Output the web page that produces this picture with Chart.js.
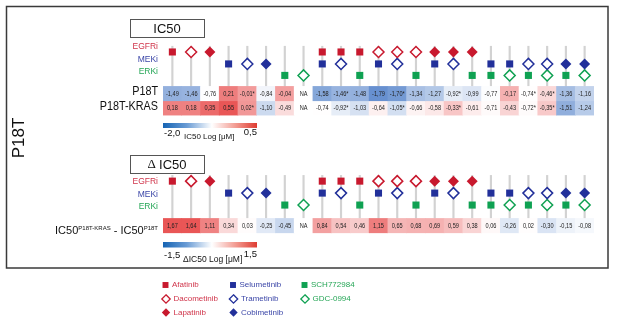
<!DOCTYPE html>
<html lang="en">
<head>
<meta charset="UTF-8">
<title>P18T IC50</title>
<script src="https://cdn.jsdelivr.net/npm/chart.js"></script>
<style>
  html, body { margin: 0; padding: 0; background: #fff; }
  canvas { display: block; }
</style>
</head>
<body>
<canvas id="heatChart" width="617" height="324"></canvas>
<script>
// drugs in legend order, and the drug class of each
const drugNames = ['Afatinib', 'Dacometinib', 'Lapatinib', 'Selumetinib', 'Trametinib', 'Cobimetinib', 'SCH772984', 'GDC-0994'];
const drugTargets = ['EGFRi', 'EGFRi', 'EGFRi', 'MEKi', 'MEKi', 'MEKi', 'ERKi', 'ERKi'];
const targetLabels = ['EGFRi', 'MEKi', 'ERKi'];

// one entry per heatmap column: the drugs combined in it
const columns = [
  ['Afatinib'], ['Dacometinib'], ['Lapatinib'], ['Selumetinib'], ['Trametinib'], ['Cobimetinib'], ['SCH772984'], ['GDC-0994'],
  ['Afatinib', 'Selumetinib'], ['Afatinib', 'Trametinib'], ['Afatinib', 'SCH772984'],
  ['Dacometinib', 'Selumetinib'], ['Dacometinib', 'Trametinib'], ['Dacometinib', 'SCH772984'],
  ['Lapatinib', 'Selumetinib'], ['Lapatinib', 'Trametinib'], ['Lapatinib', 'SCH772984'],
  ['Selumetinib', 'SCH772984'], ['Selumetinib', 'GDC-0994'],
  ['Trametinib', 'SCH772984'], ['Trametinib', 'GDC-0994'],
  ['Cobimetinib', 'SCH772984'], ['Cobimetinib', 'GDC-0994']
];

// log IC50 [uM], null = NA
const ic50P18T = [-1.49, -1.46, -0.76, 0.21, -0.01, -0.84, -0.04, null, -1.58, -1.46, -1.48, -1.79, -1.70, -1.34, -1.27, -0.92, -0.99, -0.77, -0.17, -0.74, -0.46, -1.36, -1.16];
const ic50P18TKRAS = [0.18, 0.18, 0.35, 0.55, 0.02, -1.10, -0.49, null, -0.74, -0.92, -1.03, -0.64, -1.05, -0.66, -0.58, -0.33, -0.61, -0.71, -0.43, -0.72, -0.35, -1.51, -1.24];
const deltaIC50 = [1.67, 1.64, 1.11, 0.34, 0.03, -0.25, -0.45, null, 0.84, 0.54, 0.46, 1.15, 0.65, 0.68, 0.69, 0.59, 0.38, 0.06, -0.26, 0.02, -0.30, -0.15, -0.08];
const starredCols = [4, 9, 12, 15, 19, 20];   // values marked with *
const rowLabels = ['P18T', 'P18T-KRAS'];

// colour bar tick labels
const ic50Ticks = [-2.0, 0.5];
const deltaTicks = [-1.5, 1.5];

// ---- layout / style (pixels from top) ----
const SANS = '"Liberation Sans", Arial, sans-serif';
const SERIF = '"Liberation Serif", "Times New Roman", serif';
const panels = [
  { markerY: { EGFRi: 47, MEKi: 59.5, ERKi: 71.5 }, stem: [41, 83], box: [130, 19, 74, 18] },
  { markerY: { EGFRi: 182, MEKi: 194.5, ERKi: 207 }, stem: [176, 221], box: [130, 155, 74, 18] }
];
const heatRowSpans = [[83, 98], [98, 113], [221, 236]];
const targetColors = { EGFRi: '#c8192e', MEKi: '#22309a', ERKi: '#0fa152' };
const labelColors = { EGFRi: '#d0354b', MEKi: '#3c47a8', ERKi: '#26a657' };
const drugShapes = {
  Afatinib: ['rect', true], Dacometinib: ['rectRot', false], Lapatinib: ['rectRot', true],
  Selumetinib: ['rect', true], Trametinib: ['rectRot', false], Cobimetinib: ['rectRot', true],
  SCH772984: ['rect', true], 'GDC-0994': ['rectRot', false]
};

const WHITE = [255, 255, 255], BLUE = [72, 122, 198], RED = [233, 86, 86];
function mix(a, b, t) { return a.map((v, k) => Math.round(v + (b[k] - v) * t)); }
function cellColor(v, lo, mid, hi) {
  if (v === null) return '#ffffff';
  const c = v < mid ? mix(WHITE, BLUE, Math.min(1, (mid - v) / (mid - lo)))
                    : mix(WHITE, RED, Math.min(1, (v - mid) / (hi - mid)));
  return 'rgb(' + c.join(',') + ')';
}
function fmt(v, i, stars) {
  if (v === null) return 'NA';
  return v.toFixed(2).replace('.', ',') + (stars && starredCols.includes(i) ? '*' : '');
}

// ---- datasets ----
const datasets = [];
drugNames.forEach((name, d) => {
  const [shape, filled] = drugShapes[name];
  const color = targetColors[drugTargets[d]];
  const pts = [];
  panels.forEach(p => {
    columns.forEach((c, i) => { if (c.includes(name)) pts.push({ x: i, y: p.markerY[drugTargets[d]] }); });
  });
  datasets.push({
    type: 'scatter', label: name, data: pts, order: 0,
    pointStyle: shape,
    pointRadius: shape === 'rect' ? 5 : 5.5,
    backgroundColor: filled ? color : '#ffffff',
    borderColor: color,
    borderWidth: filled ? 0 : 1.5
  });
});

const heatRows = [
  { values: ic50P18T, range: [ic50Ticks[0], -0.75, ic50Ticks[1]], stars: true },
  { values: ic50P18TKRAS, range: [ic50Ticks[0], -0.75, ic50Ticks[1]], stars: true },
  { values: deltaIC50, range: [deltaTicks[0], 0, deltaTicks[1]], stars: false }
];
heatRows.forEach((r, k) => {
  r.index = datasets.length;
  datasets.push({
    type: 'bar', label: 'heat' + k, order: 2, grouped: false,
    barPercentage: 1, categoryPercentage: 1, borderWidth: 0,
    data: r.values.map((v, i) => ({ x: i, y: heatRowSpans[k] })),
    backgroundColor: r.values.map(v => cellColor(v, ...r.range))
  });
});

panels.forEach((p, k) => {
  datasets.push({
    type: 'bar', label: 'stems' + k, order: 3, grouped: false, barThickness: 1.5,
    data: columns.map((c, i) => ({ x: i, y: p.stem })),
    backgroundColor: '#d2d2d2'
  });
});

// ---- drawing helpers ----
function text(ctx, str, x, y, font, color, align, sx, baseline) {
  ctx.save();
  ctx.font = font;
  ctx.fillStyle = color;
  ctx.textAlign = align || 'left';
  ctx.textBaseline = baseline || 'alphabetic';
  ctx.translate(x, y);
  ctx.scale(sx || 1, 1);
  ctx.fillText(str, 0, 0);
  ctx.restore();
}
function marker(ctx, shape, filled, color, x, y, r) {
  ctx.save();
  ctx.beginPath();
  if (shape === 'rect') {
    const s = r * Math.SQRT1_2;
    ctx.rect(x - s, y - s, 2 * s, 2 * s);
  } else {
    ctx.moveTo(x, y - r); ctx.lineTo(x + r, y); ctx.lineTo(x, y + r); ctx.lineTo(x - r, y); ctx.closePath();
  }
  ctx.fillStyle = filled ? color : '#fff';
  ctx.fill();
  if (!filled) { ctx.strokeStyle = color; ctx.lineWidth = 1.3; ctx.stroke(); }
  ctx.restore();
}
function colorBar(ctx, x, y, w, h) {
  const g = ctx.createLinearGradient(x, 0, x + w, 0);
  g.addColorStop(0, 'rgb(22,100,180)');
  g.addColorStop(0.25, 'rgb(105,155,212)');
  g.addColorStop(0.52, 'rgb(255,255,255)');
  g.addColorStop(0.78, 'rgb(242,152,142)');
  g.addColorStop(1, 'rgb(222,60,50)');
  ctx.fillStyle = g;
  ctx.fillRect(x, y, w, h);
}
const fmtTick = v => v.toFixed(1).replace('.', ',');

const decor = {
  id: 'decor',
  beforeDraw(chart) {
    const ctx = chart.ctx;
    ctx.save();
    ctx.fillStyle = '#fff';
    ctx.fillRect(0, 0, chart.width, chart.height);
    ctx.restore();
  },
  afterDatasetsDraw(chart) {
    const ctx = chart.ctx;
    const left = chart.chartArea.left;

    // outer frame
    ctx.save();
    ctx.strokeStyle = '#3a3a3a';
    ctx.lineWidth = 1.5;
    ctx.strokeRect(6.5, 6.5, 601.5, 261.5);
    ctx.restore();

    // vertical cell line label
    ctx.save();
    ctx.translate(19, 138);
    ctx.rotate(-Math.PI / 2);
    text(ctx, 'P18T', 0, 0, '17px ' + SANS, '#111', 'center', 1, 'middle');
    ctx.restore();

    // panel titles
    panels.forEach((p, k) => {
      const [bx, by, bw, bh] = p.box;
      ctx.save();
      ctx.strokeStyle = '#555';
      ctx.lineWidth = 1;
      ctx.strokeRect(bx + 0.5, by + 0.5, bw, bh);
      ctx.restore();
      const cx = bx + bw / 2, cy = by + bh / 2 + 1;
      if (k === 0) {
        text(ctx, 'IC50', cx, cy, '13px ' + SANS, '#111', 'center', 1, 'middle');
      } else {
        ctx.save();
        ctx.font = '13px ' + SERIF;
        const wd = ctx.measureText('Δ ').width;
        ctx.font = '13px ' + SANS;
        const wi = ctx.measureText('IC50').width;
        ctx.restore();
        const x0 = cx - (wd + wi) / 2;
        text(ctx, 'Δ ', x0, cy, '13px ' + SERIF, '#111', 'left', 1, 'middle');
        text(ctx, 'IC50', x0 + wd, cy, '13px ' + SANS, '#111', 'left', 1, 'middle');
      }
      targetLabels.forEach(t => {
        text(ctx, t, 158, p.markerY[t], '8.5px ' + SANS, labelColors[t], 'right', 1, 'middle');
      });
    });

    // row labels
    text(ctx, rowLabels[0], 158, 94.5, '12px ' + SANS, '#111', 'right', 0.9);
    text(ctx, rowLabels[1], 158, 110, '12px ' + SANS, '#111', 'right', 0.9);

    // IC50^P18T-KRAS - IC50^P18T
    const parts = [['IC50', 11, 0], ['P18T-KRAS', 6, -4.5], [' - ', 11, 0], ['IC50', 11, 0], ['P18T', 6, -4.5]];
    ctx.save();
    let total = 0;
    parts.forEach(pt => { ctx.font = pt[1] + 'px ' + SANS; pt.push(ctx.measureText(pt[0]).width); total += pt[3]; });
    ctx.restore();
    let px = 158 - total;
    parts.forEach(pt => {
      text(ctx, pt[0], px, 234 + pt[2], pt[1] + 'px ' + SANS, '#111', 'left');
      px += pt[3];
    });

    // cell values
    heatRows.forEach(r => {
      const meta = chart.getDatasetMeta(r.index);
      meta.data.forEach((el, i) => {
        const p = el.getProps(['x', 'y', 'base'], true);
        text(ctx, fmt(r.values[i], i, r.stars), p.x, (p.y + p.base) / 2 + 0.5,
          '7px ' + SANS, '#222', 'center', 0.8, 'middle');
      });
    });

    // colour bars
    colorBar(ctx, left, 123, 94, 5);
    text(ctx, fmtTick(ic50Ticks[0]), left + 1, 136, '9.5px ' + SANS, '#111', 'left');
    text(ctx, 'IC50 Log [μM]', left + 21, 138.5, '8px ' + SANS, '#111', 'left');
    text(ctx, fmtTick(ic50Ticks[1]), left + 94, 135, '9.5px ' + SANS, '#111', 'right');

    colorBar(ctx, left, 242, 94, 5.5);
    text(ctx, fmtTick(deltaTicks[0]), left + 1, 257.5, '9.5px ' + SANS, '#111', 'left');
    text(ctx, 'ΔIC50 Log [μM]', left + 20, 262, '8.5px ' + SANS, '#111', 'left');
    text(ctx, fmtTick(deltaTicks[1]), left + 94, 257, '9.5px ' + SANS, '#111', 'right');

    // legend
    const legX = [165.5, 233, 304.5];
    const legY = [285, 299, 312.5];
    const seen = {};
    drugNames.forEach((name, d) => {
      const t = drugTargets[d];
      const col = targetLabels.indexOf(t);
      const row = seen[t] = (seen[t] === undefined ? 0 : seen[t] + 1);
      const [shape, filled] = drugShapes[name];
      const mx = legX[col] + (shape === 'rect' ? 0 : 0.5);
      marker(ctx, shape, filled, targetColors[t], mx, legY[row], shape === 'rect' ? 4.2 : 4.2);
      text(ctx, name, legX[col] + (shape === 'rect' ? 6.5 : 8), legY[row], '8px ' + SANS, labelColors[t], 'left', 1, 'middle');
    });
  }
};

new Chart(document.getElementById('heatChart'), {
  type: 'bar',
  data: { datasets: datasets },
  options: {
    responsive: false,
    animation: false,
    devicePixelRatio: 1,
    layout: { padding: { left: 163, right: 23, top: 0, bottom: 0 } },
    plugins: { legend: { display: false }, tooltip: { enabled: false } },
    scales: {
      x: { type: 'linear', min: -0.5, max: 22.5, offset: false, display: false },
      y: { type: 'linear', min: 0, max: 324, reverse: true, display: false }
    }
  },
  plugins: [decor]
});
</script>
</body>
</html>
